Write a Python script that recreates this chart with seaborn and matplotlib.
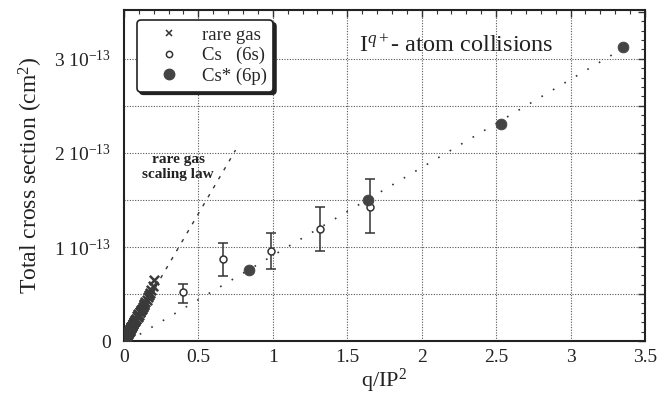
import numpy as np
import matplotlib
matplotlib.use("Agg")
import matplotlib.pyplot as plt
import seaborn as sns
from matplotlib.lines import Line2D
from matplotlib.ticker import MultipleLocator, FuncFormatter

# cross sections in units of 1e-13 cm^2
rare_x = [0.004, 0.007, 0.010, 0.012, 0.015, 0.017, 0.020, 0.022, 0.025, 0.027,
          0.030, 0.032, 0.035, 0.038, 0.040, 0.043, 0.046, 0.048, 0.051, 0.054,
          0.057, 0.060, 0.063, 0.066, 0.070, 0.073, 0.077, 0.080, 0.084, 0.088,
          0.092, 0.096, 0.100, 0.105, 0.110, 0.115, 0.120, 0.126, 0.132, 0.138,
          0.145, 0.152, 0.160, 0.168, 0.176, 0.185, 0.195, 0.205]
rare_y = [0.010, 0.028, 0.025, 0.040, 0.042, 0.058, 0.055, 0.070, 0.072, 0.088,
          0.085, 0.100, 0.102, 0.118, 0.112, 0.130, 0.135, 0.148, 0.145, 0.165,
          0.160, 0.182, 0.178, 0.200, 0.198, 0.222, 0.218, 0.240, 0.238, 0.262,
          0.258, 0.285, 0.280, 0.310, 0.305, 0.335, 0.340, 0.360, 0.385, 0.395,
          0.420, 0.440, 0.465, 0.490, 0.510, 0.545, 0.590, 0.650]

cs_x = [0.40, 0.664, 0.99, 1.32, 1.65]
cs_y = [0.52, 0.87, 0.96, 1.19, 1.43]
cs_lo = [0.41, 0.69, 0.77, 0.96, 1.15]
cs_hi = [0.61, 1.04, 1.15, 1.43, 1.72]

csx_x = [0.843, 1.64, 2.535, 3.354]
csx_y = [0.76, 1.50, 2.31, 3.13]

scaling_x = [0.0, 0.75]
scaling_y = [0.0, 2.03]

fit_x = [0.03, 3.34]
fit_y = [0.0, 3.10]

sns.set_style("white")
plt.rcParams["font.family"] = ["Liberation Serif", "DejaVu Serif"]
plt.rcParams["mathtext.fontset"] = "custom"
plt.rcParams["mathtext.rm"] = "Liberation Serif"
plt.rcParams["mathtext.it"] = "Liberation Serif:italic"

ink = "#333333"
fig, ax = plt.subplots(figsize=(6.66, 3.98), dpi=100)
fig.subplots_adjust(left=0.186, right=0.9685, top=0.975, bottom=0.143)

# dotted grid every 0.5
for gx in np.arange(0.5, 3.5, 0.5):
    ax.axvline(gx, color="#555555", lw=0.8, ls=(0, (1, 1.4)), zorder=0)
for gy in np.arange(0.5, 3.5, 0.5):
    ax.axhline(gy, color="#555555", lw=0.8, ls=(0, (1, 1.4)), zorder=0)

sns.lineplot(x=scaling_x, y=scaling_y, ax=ax, color=ink, lw=1.0,
             linestyle=(0, (2.5, 5)), zorder=2)
sns.lineplot(x=fit_x, y=fit_y, ax=ax, color=ink, lw=1.2,
             linestyle=(0, (1, 7)), zorder=2)

sns.scatterplot(x=rare_x, y=rare_y, ax=ax, marker="x", color="#3a3a3a", s=45,
                linewidth=1.8, zorder=3)

err = [np.array(cs_y) - np.array(cs_lo), np.array(cs_hi) - np.array(cs_y)]
ax.errorbar(cs_x, cs_y, yerr=err, fmt="none", ecolor=ink, elinewidth=1.1,
            capsize=3.5, capthick=1.1, zorder=3)
sns.scatterplot(x=cs_x, y=cs_y, ax=ax, marker="o", facecolor="white",
                edgecolor=ink, linewidth=1.1, s=25, zorder=4)
sns.scatterplot(x=csx_x, y=csx_y, ax=ax, marker="o", color="#444444",
                edgecolor="#444444", s=60, zorder=5)

ax.set_xlim(0, 3.5)
ax.set_ylim(0, 3.52)
ax.xaxis.set_major_locator(MultipleLocator(0.5))
ax.xaxis.set_minor_locator(MultipleLocator(0.1))
ax.yaxis.set_major_locator(MultipleLocator(0.5))
ax.yaxis.set_minor_locator(MultipleLocator(0.1))
ax.xaxis.set_major_formatter(FuncFormatter(lambda v, p: "%g" % v))


def ylab(v, p):
    if abs(v) < 1e-9:
        return "0"
    if abs(v - round(v)) < 1e-6:
        return "%d 10$^{-13}$" % round(v)
    return ""


ax.yaxis.set_major_formatter(FuncFormatter(ylab))
ax.tick_params(which="both", direction="in", top=True, right=True,
               colors=ink, labelcolor="#222222", labelsize=14)
ax.tick_params(which="major", length=5, width=1.0)
ax.tick_params(which="minor", length=3, width=0.8)
ax.tick_params(axis="x", pad=6)
ax.tick_params(axis="y", pad=9)
for s in ax.spines.values():
    s.set_color("#222222")
    s.set_linewidth(1.5)

ax.set_xlabel("q/IP$^2$", fontsize=16, color="#222222", labelpad=0)
ax.set_ylabel("Total cross section (cm$^2$)", fontsize=17, color="#222222",
              labelpad=7)

ax.text(2.235, 3.13, "I$^{q+}$- atom collisions", fontsize=17.5, color="#222222",
        ha="center", va="center")
ax.text(0.365, 1.85, "rare gas\nscaling law", fontsize=11, color="#222222",
        ha="center", va="center", linespacing=1.25, fontweight="semibold")

handles = [
    Line2D([], [], ls="none", marker="x", color=ink, ms=5, mew=1.1),
    Line2D([], [], ls="none", marker="o", mfc="white", mec=ink, ms=4.5, mew=1.1),
    Line2D([], [], ls="none", marker="o", color="#444444", ms=7.5),
]
leg = ax.legend(handles, ["rare gas", "Cs   (6s)", "Cs* (6p)"],
                loc="upper left", bbox_to_anchor=(0.025, 0.97),
                borderaxespad=0, fontsize=13.5, handlelength=2.7,
                handletextpad=0.4, labelspacing=0.18, borderpad=0.35,
                frameon=True, fancybox=True,
                shadow={"color": "#222222", "alpha": 1})
leg.get_frame().set_edgecolor("#222222")
leg.get_frame().set_linewidth(1.2)
leg.get_frame().set_alpha(1)
leg.set_zorder(10)

fig.savefig("out.png", dpi=100)
